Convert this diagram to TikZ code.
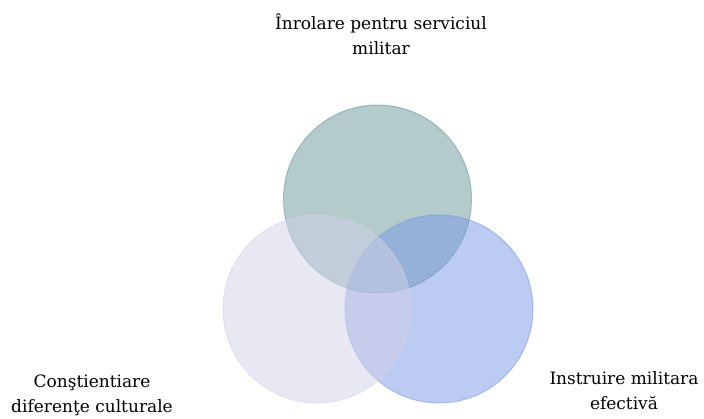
\documentclass[tikz,border=0pt]{standalone}
\usepackage{fontspec}
\setmainfont{DejaVu Serif}
\begin{document}
\begin{tikzpicture}[x=1pt,y=-1pt,
  lbl/.style={align=center,font=\fontsize{17}{25}\selectfont,inner sep=0pt,text=black},
  venn/.style={circle,minimum size=188pt,inner sep=0pt,fill opacity=0.5,draw opacity=0.55,line width=1pt}]
\useasboundingbox (0,0) rectangle (704,419);
\definecolor{ctop}{RGB}{103,153,151}
\definecolor{cright}{RGB}{121,151,229}
\definecolor{cleft}{RGB}{209,209,231}
\node[venn,fill=ctop,draw=ctop] (top) at (377.5,199) {};
\node[venn,fill=cright,draw=cright] (right) at (439,309) {};
\node[venn,fill=cleft,draw=cleft] (left) at (317,309) {};
\node[lbl] (ttop) at (381,34.5) {Înrolare pentru serviciul\\militar};
\node[lbl] (tleft) at (92,395.5) {Conştientiare\\diferenţe culturale};
\node[lbl] (tright) at (624,391) {Instruire militara\\efectivă};
\end{tikzpicture}
\end{document}
